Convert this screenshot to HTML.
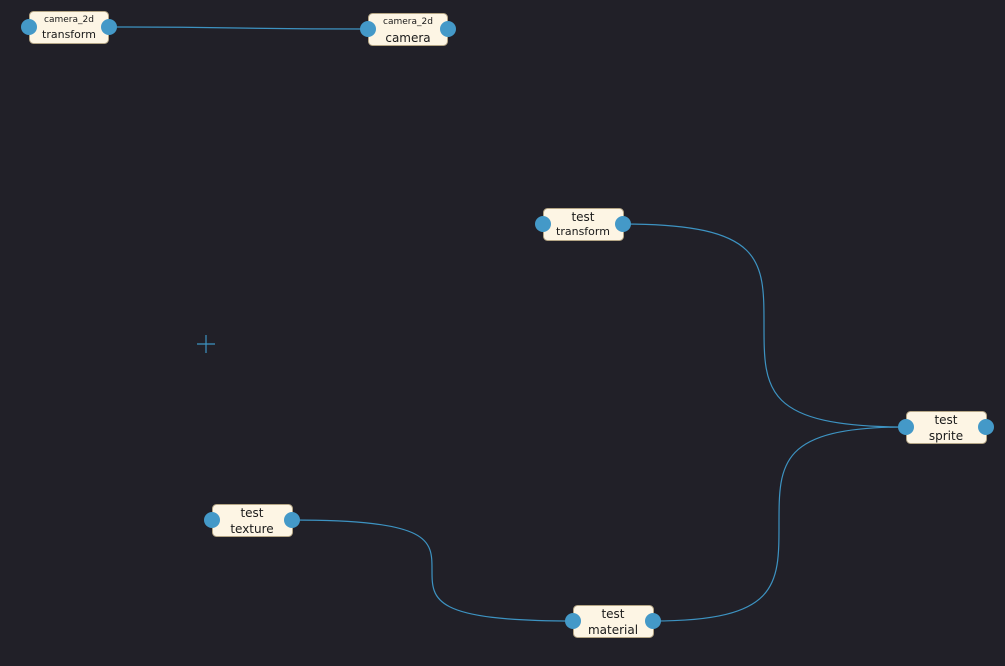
<!DOCTYPE html>
<html><head><style>
html,body{margin:0;padding:0;background:#212028;width:1005px;height:666px;overflow:hidden}
svg{display:block}
text{font-family:"DejaVu Sans","Liberation Sans",sans-serif;fill:#1a1a1a;text-anchor:middle}
</style></head><body>
<svg width="1005" height="666" viewBox="0 0 1005 666">
<g fill="none" stroke="#3d93c2" stroke-width="1.2">
<path d="M109,27 C238,27 238,29 368,29"/>
<path d="M623,224 C764,224 764,260 764,325 C764,390 764,427 906,427"/>
<path d="M653,621 C779,621 779,585 779,524 C779,463 779,427 906,427"/>
<path d="M292,520 C432,520 432,540 432,570 C432,600 432,621 573,621"/>
<path d="M197,344 H215 M206,335 V353"/>
</g>
<g stroke="#b4a585" stroke-width="1" fill="#fdf5e4">
<rect x="29.5" y="11.5" width="79" height="32" rx="4"/>
<rect x="368.5" y="13.5" width="79" height="32" rx="4"/>
<rect x="543.5" y="208.5" width="80" height="32" rx="4"/>
<rect x="906.5" y="411.5" width="80" height="32" rx="4"/>
<rect x="212.5" y="504.5" width="80" height="32" rx="4"/>
<rect x="573.5" y="605.5" width="80" height="32" rx="4"/>
</g>
<g fill="#4499c8">
<circle cx="29" cy="27" r="8"/><circle cx="109" cy="27" r="8"/>
<circle cx="368" cy="29" r="8"/><circle cx="448" cy="29" r="8"/>
<circle cx="543" cy="224" r="8"/><circle cx="623" cy="224" r="8"/>
<circle cx="906" cy="427" r="8"/><circle cx="986" cy="427" r="8"/>
<circle cx="212" cy="520" r="8"/><circle cx="292" cy="520" r="8"/>
<circle cx="573" cy="621" r="8"/><circle cx="653" cy="621" r="8"/>
</g>
<text x="69" y="22" font-size="9">camera_2d</text>
<text x="69" y="38" font-size="11">transform</text>
<text x="408" y="24" font-size="9">camera_2d</text>
<text x="408" y="42" font-size="12">camera</text>
<text x="583" y="221" font-size="12">test</text>
<text x="583" y="235" font-size="11">transform</text>
<text x="946" y="424" font-size="12">test</text>
<text x="946" y="440" font-size="12">sprite</text>
<text x="252" y="517" font-size="12">test</text>
<text x="252" y="533" font-size="12">texture</text>
<text x="613" y="618" font-size="12">test</text>
<text x="613" y="634" font-size="12">material</text>
</svg>
</body></html>
